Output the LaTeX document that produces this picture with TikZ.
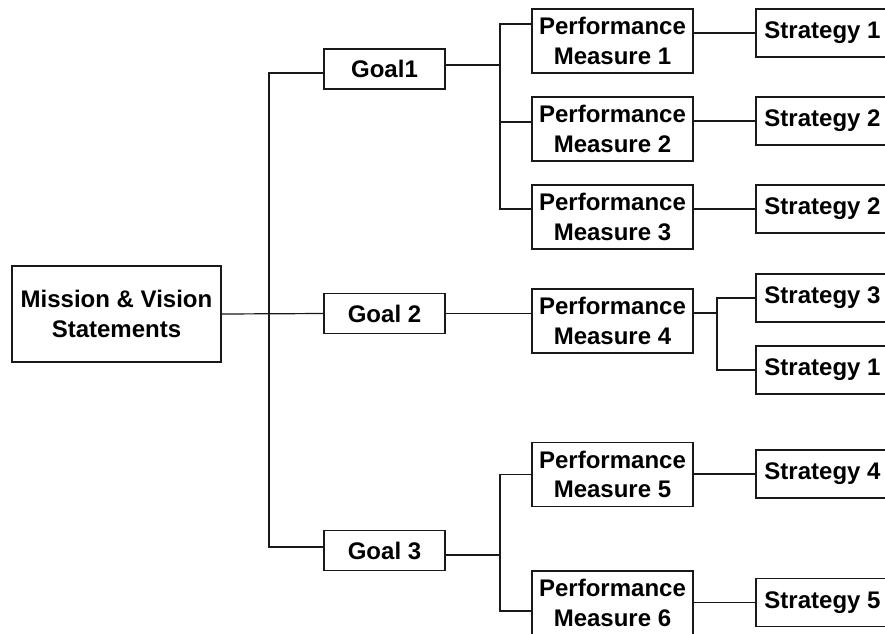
\documentclass[tikz,border=0pt]{standalone}
\usepackage{fontspec}
\setmainfont{Liberation Sans}
\begin{document}
\begin{tikzpicture}[x=1pt,y=-1pt,
  box/.style={draw=black!90, line width=1.5pt, fill=white, inner sep=0pt,
    align=center, font=\bfseries\fontsize{24}{29.5}\selectfont},
  goalbox/.style={box, minimum width=121pt, minimum height=40pt},
  pmbox/.style={box, minimum width=161pt, minimum height=64pt},
  stratbox/.style={box, minimum width=133pt, minimum height=48pt},
  link/.style={draw=black!90, line width=1.2pt}]
\useasboundingbox (0,0) rectangle (885,633);
\clip (0,0) rectangle (885,633);

% root
\node[box, minimum width=209pt, minimum height=96pt] (ms) at (116.5,314)
  {Mission \& Vision\\Statements};

% goals
\node[goalbox] (g1) at (384.5,69) {Goal1};
\node[goalbox] (g2) at (384.5,313.5) {Goal 2};
\node[goalbox] (g3) at (384.5,550.5) {Goal 3};

% performance measures
\node[pmbox] (pm1) at (612.5,41) {Performance\\Measure 1};
\node[pmbox] (pm2) at (612.5,129) {Performance\\Measure 2};
\node[pmbox] (pm3) at (612.5,217) {Performance\\Measure 3};
\node[pmbox] (pm4) at (612.5,321) {Performance\\Measure 4};
\node[pmbox] (pm5) at (612.5,474.5) {Performance\\Measure 5};
\node[pmbox] (pm6) at (612.5,603) {Performance\\Measure 6};

% strategies
\node[stratbox] (s1) at (822.5,33) {Strategy 1};
\node[stratbox] (s2) at (822.5,121) {Strategy 2};
\node[stratbox] (s2b) at (822.5,209) {Strategy 2};
\node[stratbox] (s3) at (822.5,298) {Strategy 3};
\node[stratbox] (s1b) at (822.5,370) {Strategy 1};
\node[stratbox] (s4) at (822.5,474) {Strategy 4};
\node[stratbox] (s5) at (822.5,602.5) {Strategy 5};

% junction points
\coordinate (t) at (269,314);
\coordinate (b1) at (500,65);
\coordinate (b3) at (500,555);
\coordinate (b4) at (717,313);
\coordinate (p2in) at ([yshift=7pt]pm2.west);

% root to goals
\draw[link] (ms.east) -- (g2.west);
\draw[link] ([yshift=-4pt]g1.west) -| (t) |- ([yshift=3.5pt]g3.west);

% goal 1 to its measures
\draw[link] ([yshift=4pt]g1.east) -- (b1);
\draw[link] ([yshift=17pt]pm1.west) -| (b1) |- ([yshift=8pt]pm3.west);
\draw[link] (p2in) -- (p2in -| b1);

% goal 2 to measure 4
\draw[link] (g2.east) -- (g2.east -| pm4.west);

% goal 3 to its measures
\draw[link] ([yshift=-4.5pt]g3.east) -- (b3);
\draw[link] (pm5.west) -| (b3) |- ([yshift=-8pt]pm6.west);

% measures to strategies
\draw[link] (s1.west) -- (s1.west -| pm1.east);
\draw[link] (s2.west) -- (s2.west -| pm2.east);
\draw[link] (s2b.west) -- (s2b.west -| pm3.east);
\draw[link] (b4 -| pm4.east) -- (b4);
\draw[link] (s3.west) -| (b4) |- (s1b.west);
\draw[link] (s4.west) -- (s4.west -| pm5.east);
\draw[link] (s5.west) -- (s5.west -| pm6.east);
\end{tikzpicture}
\end{document}
